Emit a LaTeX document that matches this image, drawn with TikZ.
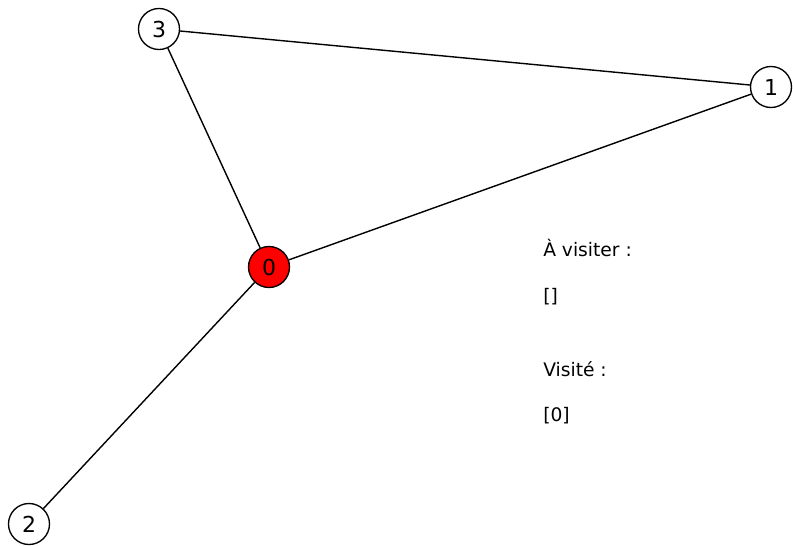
\documentclass[tikz,border=0pt]{standalone}
\usepackage{fontspec}
\setmainfont{DejaVu Sans}
\begin{document}
\begin{tikzpicture}[x=0.75pt,y=-0.75pt,
  vertex/.style={circle,draw=black,line width=1pt,fill=white,minimum size=30.75pt,inner sep=0pt,font=\fontsize{16.5pt}{18pt}\selectfont},
  edge/.style={line width=1.05pt},
  info/.style={anchor=base west,inner sep=0pt,font=\fontsize{14pt}{16pt}\selectfont}]
\useasboundingbox (0,0) rectangle (793,546);
\node[vertex] (n3) at (159,29) {3};
\node[vertex] (n1) at (771,87) {1};
\node[vertex,fill=red] (n0) at (269,267) {0};
\node[vertex] (n2) at (29,524) {2};
\draw[edge] (n3) -- (n1);
\draw[edge] (n3) -- (n0);
\draw[edge] (n0) -- (n1);
\draw[edge] (n0) -- (n2);
\node[info] (t1) at (543,256) {À visiter :};
\node[info] (t2) at (543,302) {[]};
\node[info] (t3) at (543,376) {Visité :};
\node[info] (t4) at (543,421) {[0]};
\end{tikzpicture}
\end{document}
